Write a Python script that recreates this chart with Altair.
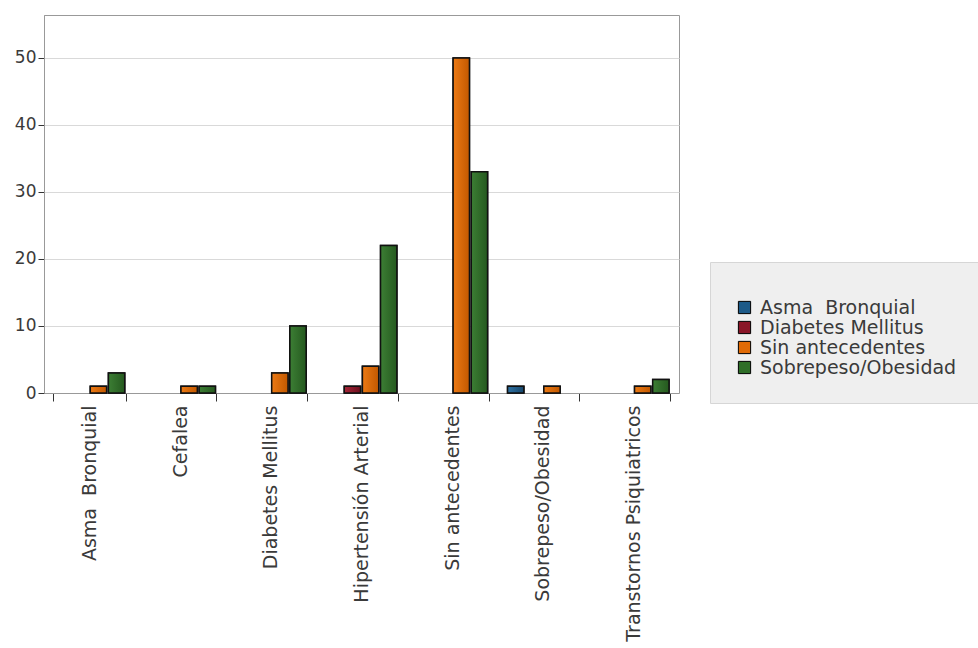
import altair as alt
import pandas as pd

# Categories on the x axis (one group of bars each)
categories = [
    "Asma\u00a0 Bronquial",
    "Cefalea",
    "Diabetes Mellitus",
    "Hipertensión Arterial",
    "Sin antecedentes",
    "Sobrepeso/Obesidad",
    "Transtornos Psiquiatricos",
]

# Series (legend entries) and their counts per category
series = ["Asma\u00a0 Bronquial", "Diabetes Mellitus", "Sin antecedentes", "Sobrepeso/Obesidad"]
asma_bronquial = [0, 0, 0, 0, 0, 1, 0]
diabetes_mellitus = [0, 0, 0, 1, 0, 0, 0]
sin_antecedentes = [1, 1, 3, 4, 50, 1, 1]
sobrepeso_obesidad = [3, 1, 10, 22, 33, 0, 2]

# Legend colours and the light/dark ends of each bar's shading
colors = ["#1d5a88", "#8a1628", "#e06a06", "#2f6e28"]
light = ["#2f72a4", "#a62638", "#ec7a14", "#3c7e34"]
dark = ["#17476c", "#6c0f1e", "#c25800", "#25591f"]

rows = []
for name, vals in zip(series, [asma_bronquial, diabetes_mellitus, sin_antecedentes, sobrepeso_obesidad]):
    for cat, v in zip(categories, vals):
        rows.append({"categoria": cat, "serie": name, "valor": v})
df = pd.DataFrame(rows)

FONT = "DejaVu Sans"
FSIZE = 19

x_enc = alt.X(
    "categoria:N",
    sort=categories,
    scale=alt.Scale(domain=categories, paddingInner=0.2, paddingOuter=0.1),
    axis=alt.Axis(
        title=None,
        labelAngle=-90,
        labelAlign="right",
        labelBaseline="middle",
        labelPadding=4,
        labelLimit=400,
        tickBand="extent",
        tickSize=8,
        tickColor="#333333",
        domainColor="#999999",
        labelFontSize=FSIZE,
        labelColor="#3a3a3a",
        labelFont=FONT,
        grid=False,
    ),
)
xoff_enc = alt.XOffset(
    "serie:N",
    sort=series,
    scale=alt.Scale(domain=series, paddingInner=0.1, paddingOuter=0.05),
)
y_enc = alt.Y(
    "valor:Q",
    scale=alt.Scale(domain=[0, 56.4], nice=False),
    axis=alt.Axis(
        title=None,
        values=[0, 10, 20, 30, 40, 50],
        tickSize=6,
        tickColor="#333333",
        domainColor="#999999",
        labelPadding=2,
        labelFontSize=17,
        labelColor="#3a3a3a",
        labelFont=FONT,
        gridColor="#d9d9d9",
    ),
)

base = alt.Chart(df).transform_filter(alt.datum.valor > 0)

# Flat-coloured bars carry the colour legend
legend_bars = base.mark_bar(stroke="#111111", strokeWidth=1.5).encode(
    x=x_enc,
    xOffset=xoff_enc,
    y=y_enc,
    color=alt.Color(
        "serie:N",
        sort=series,
        scale=alt.Scale(domain=series, range=colors),
        legend=alt.Legend(
            title=" ",
            titleFontSize=6,
            orient="none",
            legendX=666,
            legendY=247,
            padding=25,
            fillColor="#efefef",
            strokeColor="#d6d6d6",
            symbolType="square",
            symbolSize=150,
            symbolStrokeColor="black",
            symbolStrokeWidth=1,
            labelFontSize=FSIZE,
            labelFont=FONT,
            labelColor="#3a3a3a",
            labelOffset=6,
            rowPadding=-3,
            labelLimit=400,
        ),
    ),
)

# Shaded bars drawn on top, one layer per series
shaded = []
for name, lo, hi in zip(series, light, dark):
    grad = alt.Gradient(
        gradient="linear",
        x1=0, y1=0, x2=1, y2=0,
        stops=[alt.GradientStop(color=lo, offset=0), alt.GradientStop(color=hi, offset=1)],
    )
    shaded.append(
        base.transform_filter(alt.datum.serie == name)
        .mark_bar(stroke="#111111", strokeWidth=1.5, fill=grad)
        .encode(x=x_enc, xOffset=xoff_enc, y=y_enc)
    )

chart = (
    alt.layer(legend_bars, *shaded)
    .properties(
        width=635,
        height=378,
        autosize=alt.AutoSizeParams(type="none"),
        padding={"left": 44, "top": 15, "right": 299, "bottom": 255},
        background="white",
    )
    .configure_view(stroke="#999999", strokeWidth=1)
)

chart.save("out.html", embed_options={"renderer": "svg", "actions": False})
